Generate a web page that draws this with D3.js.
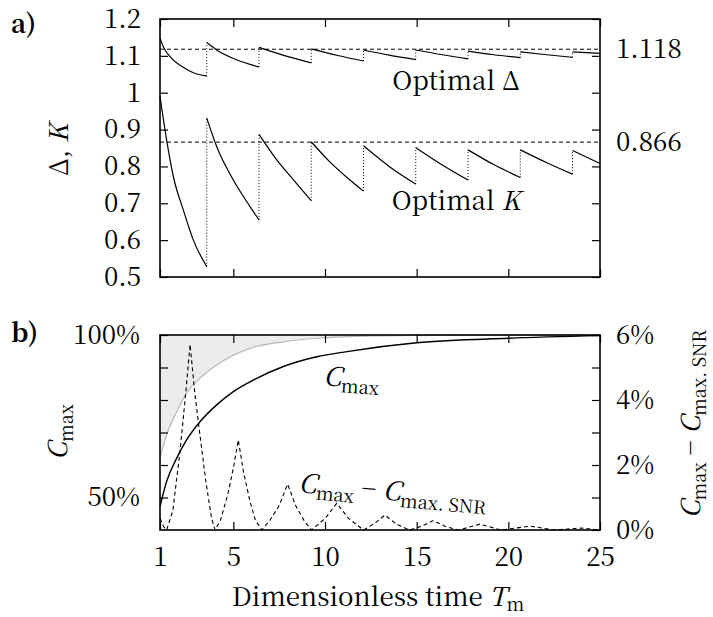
<!DOCTYPE html>
<html>
<head>
<meta charset="utf-8">
<script src="https://cdn.jsdelivr.net/npm/d3@7"></script>
<style>
    body { margin: 0; background: #fff; }
</style>
</head>
<body>
<svg id="chart" width="713" height="617"></svg>
<script>
/* values */

// panel a) : optimal Delta, one array of [T, value] per branch
const deltaBranches = [
    [[1, 1.148], [1.18, 1.125], [1.55, 1.098], [2.27, 1.069], [2.82, 1.054], [3.55, 1.045]],
    [[3.55, 1.136], [4.09, 1.116], [5.0, 1.093], [5.91, 1.077], [6.4, 1.07]],
    [[6.4, 1.123], [7.7, 1.102], [9.25, 1.081]],
    [[9.25, 1.119], [10.7, 1.101], [12.1, 1.086]],
    [[12.1, 1.116], [13.5, 1.102], [14.95, 1.09]],
    [[14.95, 1.116], [16.4, 1.103], [17.8, 1.092]],
    [[17.8, 1.113], [19.2, 1.103], [20.65, 1.095]],
    [[20.65, 1.111], [22.1, 1.103], [23.5, 1.096]],
    [[23.5, 1.111], [25, 1.107]]
];

// panel a) : optimal K
const kBranches = [
    [[1, 0.99], [1.36, 0.872], [1.73, 0.772], [2.27, 0.682], [2.82, 0.6], [3.55, 0.528]],
    [[3.55, 0.931], [4.09, 0.854], [5.0, 0.763], [5.91, 0.691], [6.4, 0.655]],
    [[6.4, 0.887], [7.38, 0.817], [8.29, 0.763], [9.25, 0.707]],
    [[9.25, 0.867], [10.25, 0.813], [11.2, 0.77], [12.1, 0.733]],
    [[12.1, 0.856], [13.5, 0.8], [14.95, 0.752]],
    [[14.95, 0.851], [16.4, 0.804], [17.8, 0.763]],
    [[17.8, 0.845], [19.2, 0.805], [20.65, 0.77]],
    [[20.65, 0.845], [22.1, 0.81], [23.5, 0.779]],
    [[23.5, 0.843], [25, 0.808]]
];

const optimalDelta = 1.118;
const optimalK = 0.866;

// panel b) : upper grey curve (fraction of 1)
const greyCurve = [
    [1, 0.621], [1.36, 0.692], [1.91, 0.764], [2.45, 0.821], [3.18, 0.867], [4.09, 0.908],
    [5.0, 0.938], [5.91, 0.959], [7.73, 0.979], [9.55, 0.99], [11.36, 0.995], [15, 0.999], [25, 1.0]
];

// panel b) : C_max
const cmaxCurve = [
    [1, 0.472], [1.36, 0.549], [1.91, 0.621], [2.45, 0.677], [3.18, 0.733], [4.09, 0.785],
    [5.0, 0.826], [5.91, 0.856], [7.73, 0.903], [9.55, 0.933], [11.2, 0.949], [15, 0.976],
    [20, 0.99], [25, 0.998]
];

// panel b) : C_max - C_max.SNR, in percent (right axis)
const diffCurve = [
    [1, 0.36], [1.2, 0.1], [1.36, 0], [1.7, 0.6], [2.09, 2.41], [2.4, 4.2], [2.64, 5.71],
    [2.9, 4.2], [3.18, 2.92], [3.5, 1.5], [3.8, 0.4], [4.0, 0],
    [4.3, 0.3], [4.7, 1.1], [5.0, 1.9], [5.27, 2.77], [5.55, 1.8], [5.9, 0.9], [6.2, 0.3], [6.55, 0],
    [7.0, 0.3], [7.5, 0.75], [7.96, 1.41], [8.4, 0.75], [8.9, 0.25], [9.27, 0],
    [10.0, 0.35], [10.64, 0.82], [11.3, 0.35], [12.1, 0],
    [12.7, 0.2], [13.27, 0.46], [13.9, 0.18], [14.6, 0],
    [15.3, 0.12], [15.9, 0.29], [16.6, 0.1], [17.3, 0],
    [18.45, 0.18], [19.6, 0], [21.2, 0.12], [22.5, 0], [24, 0.06], [25, 0]
];

// ticks
const xTicks = [1, 5, 10, 15, 20, 25];
const aTicks = [0.5, 0.6, 0.7, 0.8, 0.9, 1.0, 1.1, 1.2];
const aTickLabels = ["0.5", "0.6", "0.7", "0.8", "0.9", "1", "1.1", "1.2"];
const bLeftTicks = [0.5, 0.6, 0.7, 0.8, 0.9, 1.0];
const bLeftLabels = ["50%", "", "", "", "", "100%"];
const bRightTicks = [0, 1, 2, 3, 4, 5, 6];
const bRightLabels = ["0%", "", "2%", "", "4%", "", "6%"];

/* drawing */

const FONT = "'Noto Serif CJK SC', 'Liberation Serif', serif";
const fontSize = 26;
const svg = d3.select("#chart");

const x = d3.scaleLinear().domain([1, 25]).range([160, 600]);
const yA = d3.scaleLinear().domain([0.5, 1.2]).range([277, 19]);
const yB = d3.scaleLinear().domain([0.4, 1.0]).range([530, 335]);
const yD = d3.scaleLinear().domain([0, 6]).range([530, 335]);

function styleAxis(g) {
    g.select(".domain").remove();
    g.attr("font-family", null).attr("font-size", null);
    g.selectAll(".tick line").attr("stroke", "#000").attr("stroke-width", 1.2);
    g.selectAll(".tick text").attr("font-size", fontSize).attr("fill", "#000");
}

// ---- panel a) ----
const gA = svg.append("g");

const lineA = d3.line()
    .x(d => x(d[0]))
    .y(d => yA(d[1]))
    .curve(d3.curveMonotoneX);

[optimalDelta, optimalK].forEach(v => {
    gA.append("path")
        .attr("d", d3.line().x(d => x(d[0])).y(d => yA(d[1]))([[1, v], [25, v]]))
        .attr("fill", "none")
        .attr("stroke", "#000")
        .attr("stroke-width", 1)
        .attr("stroke-dasharray", "4,3");
});

[deltaBranches, kBranches].forEach(branches => {
    branches.forEach((b, i) => {
        gA.append("path")
            .attr("d", lineA(b))
            .attr("fill", "none")
            .attr("stroke", "#000")
            .attr("stroke-width", 1.2);
        // dotted jump to the next branch
        if (i < branches.length - 1) {
            const end = b[b.length - 1];
            const next = branches[i + 1][0];
            gA.append("line")
                .attr("x1", x(end[0])).attr("x2", x(next[0]))
                .attr("y1", yA(end[1])).attr("y2", yA(next[1]))
                .attr("stroke", "#000")
                .attr("stroke-width", 1)
                .attr("stroke-dasharray", "1,2");
        }
    });
});

gA.append("rect")
    .attr("x", 160).attr("y", 19)
    .attr("width", 440).attr("height", 258)
    .attr("fill", "none").attr("stroke", "#000").attr("stroke-width", 1.6);

gA.append("g")
    .attr("transform", "translate(160,0)")
    .call(d3.axisLeft(yA).tickValues(aTicks).tickFormat((d, i) => aTickLabels[i])
        .tickSizeInner(-8).tickSizeOuter(0).tickPadding(19))
    .call(styleAxis);
gA.append("g")
    .attr("transform", "translate(600,0)")
    .call(d3.axisRight(yA).tickValues(aTicks).tickFormat("").tickSizeInner(-8).tickSizeOuter(0))
    .call(styleAxis);
gA.append("g")
    .attr("transform", "translate(0,277)")
    .call(d3.axisBottom(x).tickValues(xTicks).tickFormat("").tickSizeInner(-8).tickSizeOuter(0))
    .call(styleAxis);
gA.append("g")
    .attr("transform", "translate(0,19)")
    .call(d3.axisTop(x).tickValues(xTicks).tickFormat("").tickSizeInner(-8).tickSizeOuter(0))
    .call(styleAxis);

[optimalDelta, optimalK].forEach(v => {
    gA.append("text")
        .attr("x", 616).attr("y", yA(v)).attr("dy", "0.34em")
        .attr("font-size", fontSize)
        .text(d3.format(".3f")(v));
});

const optD = gA.append("text").attr("x", 456).attr("y", 90)
    .attr("text-anchor", "middle").attr("font-size", fontSize);
optD.append("tspan").text("Optimal Δ");

const optK = gA.append("text").attr("x", 456).attr("y", 210)
    .attr("text-anchor", "middle").attr("font-size", fontSize);
optK.append("tspan").text("Optimal ");
optK.append("tspan").attr("font-style", "italic").text("K");

const labA = gA.append("text")
    .attr("transform", "translate(68,150) rotate(-90)")
    .attr("text-anchor", "middle").attr("font-size", fontSize);
labA.append("tspan").text("Δ, ");
labA.append("tspan").attr("font-style", "italic").text("K");

gA.append("text").attr("x", 11).attr("y", 33)
    .attr("font-size", fontSize).attr("font-weight", "bold").text("a)");

// ---- panel b) ----
const gB = svg.append("g");

gB.append("path")
    .attr("d", d3.area()
        .x(d => x(d[0]))
        .y0(yB(1.0))
        .y1(d => yB(d[1]))
        .curve(d3.curveMonotoneX)(greyCurve))
    .attr("fill", "#ececec");

gB.append("path")
    .attr("d", d3.line().x(d => x(d[0])).y(d => yB(d[1])).curve(d3.curveMonotoneX)(greyCurve))
    .attr("fill", "none").attr("stroke", "#b8b8b8").attr("stroke-width", 1.2);

gB.append("path")
    .attr("d", d3.line().x(d => x(d[0])).y(d => yB(d[1])).curve(d3.curveMonotoneX)(cmaxCurve))
    .attr("fill", "none").attr("stroke", "#000").attr("stroke-width", 1.4);

gB.append("path")
    .attr("d", d3.line().x(d => x(d[0])).y(d => yD(d[1])).curve(d3.curveLinear)(diffCurve))
    .attr("fill", "none").attr("stroke", "#000").attr("stroke-width", 1.1)
    .attr("stroke-dasharray", "4,3");

gB.append("rect")
    .attr("x", 160).attr("y", 335)
    .attr("width", 440).attr("height", 195)
    .attr("fill", "none").attr("stroke", "#000").attr("stroke-width", 1.6);

gB.append("g")
    .attr("transform", "translate(160,0)")
    .call(d3.axisLeft(yB).tickValues(bLeftTicks).tickFormat((d, i) => bLeftLabels[i])
        .tickSizeInner(-8).tickSizeOuter(0).tickPadding(20))
    .call(styleAxis);
gB.append("g")
    .attr("transform", "translate(600,0)")
    .call(d3.axisRight(yD).tickValues(bRightTicks).tickFormat((d, i) => bRightLabels[i])
        .tickSizeInner(-8).tickSizeOuter(0).tickPadding(16))
    .call(styleAxis);
gB.append("g")
    .attr("transform", "translate(0,530)")
    .call(d3.axisBottom(x).tickValues(xTicks).tickSizeInner(-8).tickSizeOuter(0).tickPadding(18))
    .call(styleAxis);
gB.append("g")
    .attr("transform", "translate(0,335)")
    .call(d3.axisTop(x).tickValues(xTicks).tickFormat("").tickSizeInner(-8).tickSizeOuter(0))
    .call(styleAxis);

// C with a roman subscript
function cSub(sel, sub) {
    sel.append("tspan").attr("font-style", "italic").text("C");
    sel.append("tspan").attr("font-size", fontSize * 0.7).attr("dy", 6).text(sub);
}

const lCmax = gB.append("text")
    .attr("transform", "translate(323,385) rotate(4)")
    .attr("font-size", fontSize);
cSub(lCmax, "max");

const lDiff = gB.append("text")
    .attr("transform", "translate(298,492) rotate(5)")
    .attr("font-size", fontSize);
cSub(lDiff, "max");
lDiff.append("tspan").attr("dy", -6).text(" − ");
cSub(lDiff, "max. SNR");

const labBL = gB.append("text")
    .attr("transform", "translate(67,432) rotate(-90)")
    .attr("text-anchor", "middle").attr("font-size", fontSize);
cSub(labBL, "max");

const labBR = gB.append("text")
    .attr("transform", "translate(700,424) rotate(-90)")
    .attr("text-anchor", "middle").attr("font-size", fontSize);
cSub(labBR, "max");
labBR.append("tspan").attr("dy", -6).text(" − ");
cSub(labBR, "max. SNR");

gB.append("text").attr("x", 11).attr("y", 342)
    .attr("font-size", fontSize).attr("font-weight", "bold").text("b)");

const xl = svg.append("text").attr("x", 378).attr("y", 606)
    .attr("text-anchor", "middle").attr("font-size", fontSize);
xl.append("tspan").text("Dimensionless time ");
xl.append("tspan").attr("font-style", "italic").text("T");
xl.append("tspan").attr("font-size", fontSize * 0.7).attr("dy", 5).text("m");

// one serif face for every label
svg.selectAll("text").style("font-family", FONT).attr("fill", "#000");
</script>
</body>
</html>
